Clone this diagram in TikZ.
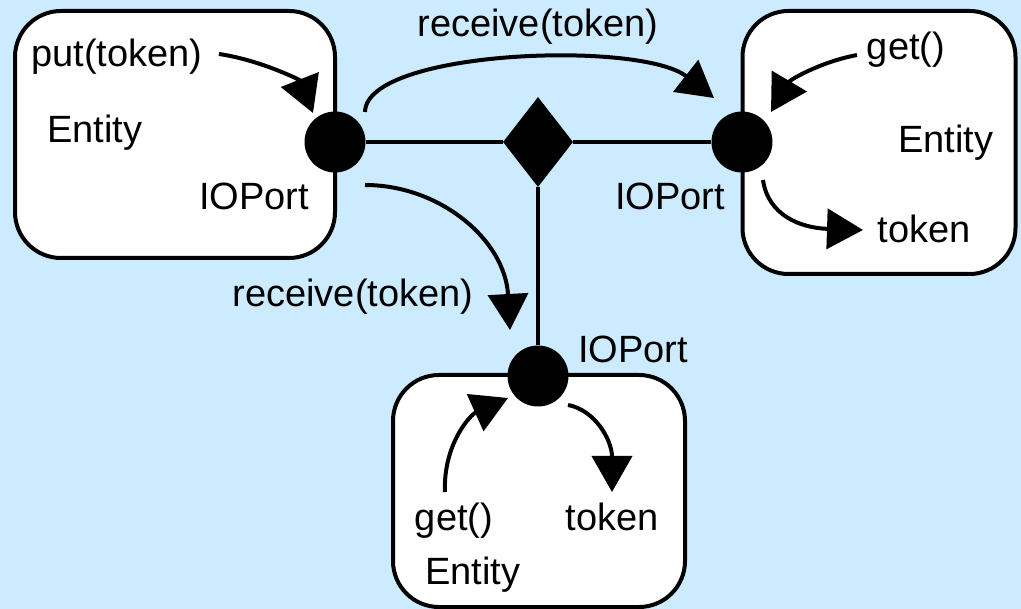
\documentclass[tikz,border=0pt]{standalone}
\usepackage{fontspec}
\setmainfont{Liberation Sans}
\usetikzlibrary{arrows.meta,shapes.geometric}
\definecolor{bg}{RGB}{204,235,255}
\begin{document}
\begin{tikzpicture}[x=1pt,y=-1pt,
  entitybox/.style={draw=black,fill=white,line width=4pt,rounded corners=46pt,inner sep=0pt},
  port/.style={circle,fill=black,minimum size=61pt,inner sep=0pt},
  junction/.style={diamond,fill=black,minimum width=70pt,minimum height=90pt,inner sep=0pt},
  lbl/.style={font=\fontsize{38}{42}\selectfont,inner sep=0pt},
  wire/.style={line width=4pt},
  flow/.style={line width=4pt,-{Triangle[length=36pt,width=40pt]}}]
\fill[bg] (0,0) rectangle (1021,609);
\useasboundingbox (0,0) rectangle (1021,609);
% entity boxes
\node[entitybox,minimum width=320pt,minimum height=247pt] (eL) at (175,134.5) {};
\node[entitybox,minimum width=273pt,minimum height=263pt] (eR) at (879,142.5) {};
\node[entitybox,minimum width=292pt,minimum height=232pt] (eB) at (539,491) {};
% ports and junction
\node[port] (pL) at (335,142) {};
\node[port] (pR) at (742,142) {};
\node[port] (pB) at (538,376) {};
\node[junction] (dia) at (538,142) {};
\draw[wire] (pL) -- (dia) -- (pR);
\draw[wire] (dia) -- (pB);
% labels
\node[lbl] (tPut) at (117,57) {put(token)};
\node[lbl] (tEL) at (95,133) {Entity};
\node[lbl] (tIOL) at (254,196) {IOPort};
\node[lbl] (tRecT) at (538,27) {receive(token)};
\node[lbl] (tGetR) at (906,50) {get()};
\node[lbl] (tER) at (946,143) {Entity};
\node[lbl] (tIOR) at (670,196) {IOPort};
\node[lbl] (tTokR) at (924,229) {token};
\node[lbl] (tRecM) at (353,297) {receive(token)};
\node[lbl] (tIOB) at (633,349) {IOPort};
\node[lbl] (tGetB) at (454,521) {get()};
\node[lbl] (tTokB) at (612,517) {token};
\node[lbl] (tEB) at (473,575) {Entity};
% arrow end points
\coordinate (a1s) at (219,54);  \coordinate (a1e) at (313,113);
\coordinate (a2s) at (365,112); \coordinate (a2e) at (714,98);
\coordinate (a3s) at (857,55);  \coordinate (a3e) at (771,112);
\coordinate (a4s) at (763,180); \coordinate (a4e) at (863,230);
\coordinate (a5s) at (365,185); \coordinate (a5e) at (510,330);
\coordinate (a6s) at (445,492); \coordinate (a6e) at (508,398);
\coordinate (a7s) at (568,405); \coordinate (a7e) at (612,492);
% arrows
\draw[flow] (a1s) .. controls (260,60) and (300,80) .. (a1e);
\draw[flow] (a2s) .. controls (366,50) and (640,40) .. (a2e);
\draw[flow] (a3s) .. controls (820,62) and (790,80) .. (a3e);
\draw[flow] (a4s) .. controls (768,215) and (800,228) .. (a4e);
\draw[flow] (a5s) .. controls (440,185) and (505,240) .. (a5e);
\draw[flow] (a6s) .. controls (443,445) and (470,415) .. (a6e);
\draw[flow] (a7s) .. controls (595,410) and (612,440) .. (a7e);
\end{tikzpicture}
\end{document}
